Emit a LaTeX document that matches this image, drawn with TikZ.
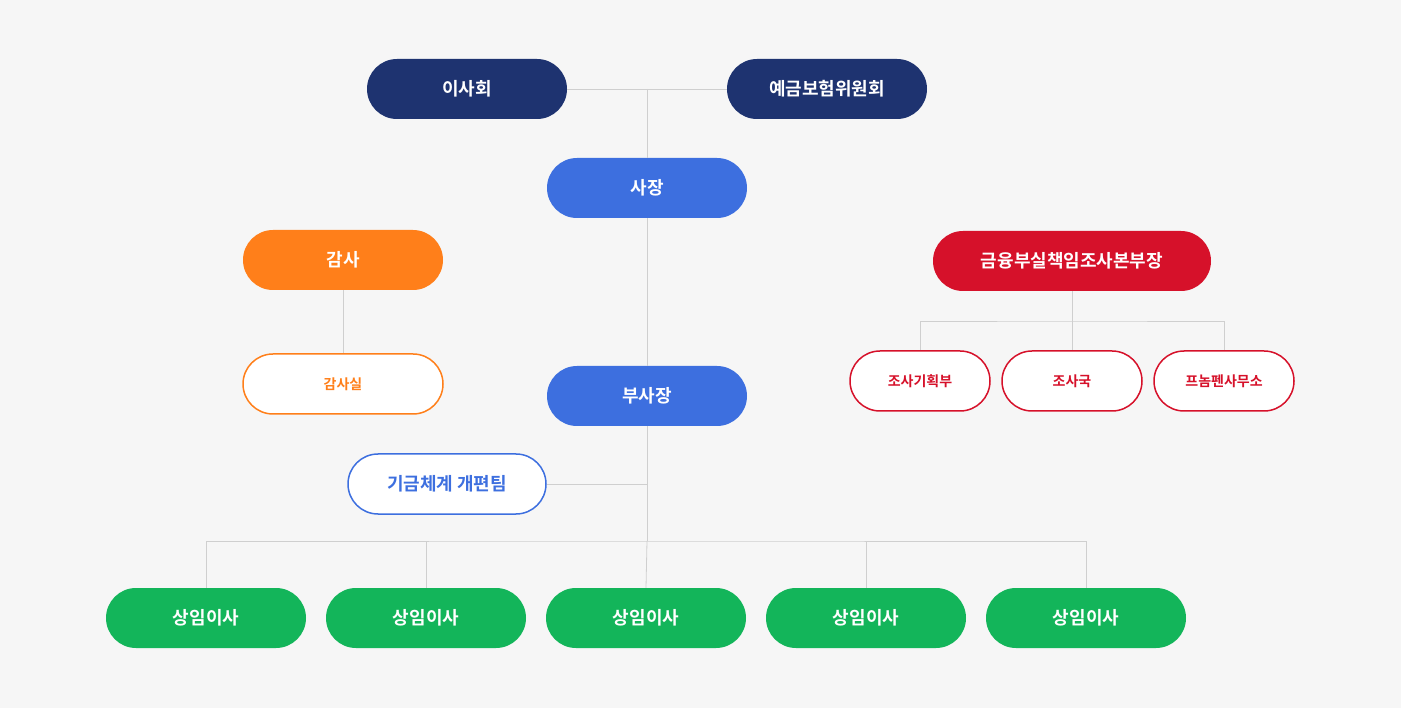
\documentclass[tikz,border=0pt]{standalone}
\usepackage{fontspec}
\setmainfont{Noto Sans CJK KR}[BoldFont={Noto Sans CJK KR Bold}]
\begin{document}
\begin{tikzpicture}[x=1pt,y=-1pt,
 pill/.style={rounded corners=30pt,minimum height=60pt,minimum width=200pt,inner sep=0pt,font=\bfseries\fontsize{18}{20}\selectfont,text=white},
 small/.style={rounded corners=30pt,minimum height=60pt,minimum width=140pt,inner sep=0pt,font=\bfseries\fontsize{14}{16}\selectfont,draw=red1,fill=white,text=red1,line width=1.5pt},
 ln/.style={draw=lg,line width=0.8pt}]
\definecolor{bg}{HTML}{F6F6F6}\definecolor{navy}{HTML}{1E3370}\definecolor{blu}{HTML}{3D6FDF}
\definecolor{org}{HTML}{FF7F1A}\definecolor{red1}{HTML}{D6112A}\definecolor{grn}{HTML}{13B55A}\definecolor{lg}{HTML}{CFCFCF}
\fill[bg] (0,0) rectangle (1401,708);
\node[pill,fill=navy] (a) at (467,89) {이사회};
\node[pill,fill=navy] (b) at (827,89) {예금보험위원회};
\node[pill,fill=blu] (c) at (647,188) {사장};
\node[pill,fill=org] (d) at (343,260) {감사};
\node[pill,fill=white,draw=org,line width=1.5pt,text=org,font=\bfseries\fontsize{14}{16}\selectfont] (e) at (343,384) {감사실};
\node[pill,fill=blu] (f) at (647,396) {부사장};
\node[pill,fill=red1,minimum width=278pt] (g) at (1072,261) {금융부실책임조사본부장};
\node[small] (g1) at (920,381) {조사기획부};
\node[small] (g2) at (1072,381) {조사국};
\node[small] (g3) at (1224,381) {프놈펜사무소};
\node[pill,fill=white,draw=blu,line width=1.5pt,text=blu,minimum width=198pt] (h) at (447,484) {기금체계 개편팀};
\foreach \i/\x in {1/206,2/426,3/646,4/866,5/1086}
 \node[pill,fill=grn] (s\i) at (\x,618) {상임이사};
\coordinate (j1) at (647,89);
\coordinate (j2) at (1072,321);
\coordinate (j3) at (647,541);
\coordinate (j4) at (647,484);
\begin{scope}[on background layer/.style={}]
\draw[ln] (a.east) -- (b.west);
\draw[ln] (j1) -- (c.north);
\draw[ln] (c.south) -- (f.north);
\draw[ln] (d.south) -- (e.north);
\draw[ln] (g.south) -- (j2);
\draw[ln] (g1.north) |- (j2) -| (g3.north);
\draw[ln] (j2) -- (g2.north);
\draw[ln] (f.south) -- (j3);
\draw[ln] (h.east) -- (j4);
\draw[ln] (s1.north) |- (j3) -| (s5.north);
\draw[ln] (s2.north) -- (s2.north |- j3);
\draw[ln] (s3.north) -- (j3);
\draw[ln] (s4.north) -- (s4.north |- j3);
\end{scope}
\end{tikzpicture}
\end{document}
